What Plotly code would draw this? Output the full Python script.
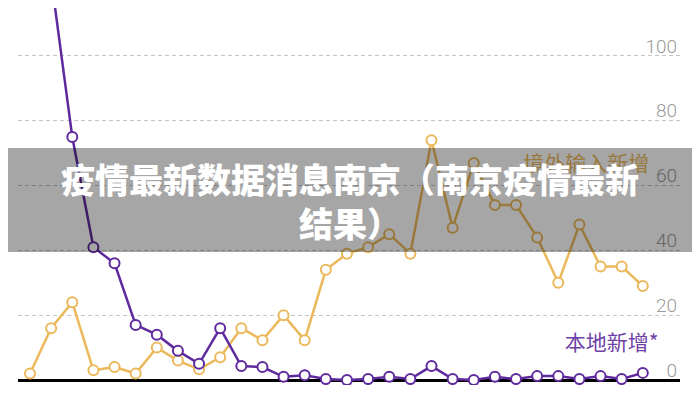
import plotly.graph_objects as go

# x categories (date ticks mostly cut off at the bottom in the reference)
days = list(range(30))
tick_pos = [0, 4, 8, 12, 16, 20, 24, 28]
tick_text = ['2/27', '3/2', '3/6', '3/10', '3/14', '3/18', '3/22', '3/26']

# 境外输入新增 (gold)
imported = [2, 16, 24, 3, 4, 2, 10, 6, 3.3, 7, 16, 12.3, 20, 12.3, 34, 39,
            41, 45, 39, 74, 47, 67, 54, 54, 44, 30, 48, 35, 35, 29]
# 本地新增 (purple)
local = [170, 124, 75, 41, 36, 17, 14, 9, 5, 16, 4.3, 4, 1, 1.5, 0.3, 0,
         0.3, 1, 0.3, 4.3, 0.3, 0, 1, 0.3, 1.2, 1.2, 0.3, 1.2, 0.3, 2.2]

gold = '#EBB95C'
purple = '#5F2A9E'

fig = go.Figure()
fig.add_trace(go.Scatter(
    x=days, y=imported, mode='lines+markers',
    line=dict(color=gold, width=2.5),
    marker=dict(size=10, color='white', line=dict(color=gold, width=2)),
))
fig.add_trace(go.Scatter(
    x=days, y=local, mode='lines+markers',
    line=dict(color=purple, width=2.5),
    marker=dict(size=10, color='white', line=dict(color=purple, width=2)),
))
# series labels (as text traces so the banner can cover the gold one)
fig.add_trace(go.Scatter(
    x=[29.3], y=[66], mode='text', text=['境外输入新增'],
    textposition='middle left',
    textfont=dict(family='Noto Sans CJK SC', size=21, color=gold),
))
fig.add_trace(go.Scatter(
    x=[29.75], y=[10.9], mode='text', text=['本地新增*'],
    textposition='middle left',
    textfont=dict(family='Noto Sans CJK SC', size=21, color='#6E3FA6'),
))

# page body adds an 8px offset, margins compensate for it
fig.update_layout(
    width=700, height=400,
    margin=dict(l=10, r=28, t=0, b=23),
    paper_bgcolor='white', plot_bgcolor='white',
    showlegend=False,
    font=dict(family='Roboto', color='#9a9a9a'),
    xaxis=dict(
        range=[-0.568, 30.76], showgrid=False, zeroline=False,
        tickmode='array', tickvals=tick_pos, ticktext=tick_text,
        tickfont=dict(size=15, color='#9a9a9a'),
        ticks='', ticklabelstandoff=13, showline=False, automargin=False,
    ),
    yaxis=dict(
        range=[-1.54, 114.81], side='right',
        tickvals=[0, 20, 40, 60, 80, 100],
        ticklabelposition='inside', ticklabelshift=-10, automargin=False,
        tickfont=dict(size=19, color='#9a9a9a', weight=300),
        showgrid=True, gridcolor='#c4c4c4', gridwidth=1, griddash='4px,3px',
        zeroline=True, zerolinecolor='black', zerolinewidth=3,
    ),
    shapes=[dict(
        type='rect', xref='paper', yref='paper', layer='above',
        x0=-0.05, x1=1.05, y0=0.3528, y1=0.6286,
        fillcolor='rgba(0,0,0,0.35)', line=dict(width=0),
    )],
    annotations=[dict(
        xref='paper', yref='paper', x=0.5015, y=0.489,
        text='疫情最新数据消息南京（南京疫情最新<br>结果）',
        showarrow=False, align='center',
        font=dict(family='Noto Sans CJK SC', size=34, color='white', weight=900),
    )],
)

fig.write_html('out.html')
